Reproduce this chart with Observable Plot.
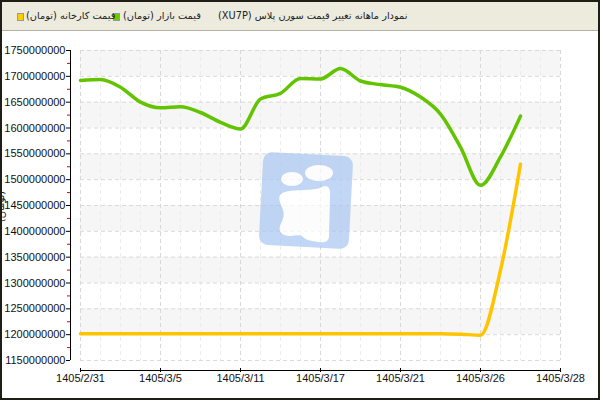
<!DOCTYPE html>
<html>
<head>
<meta charset="utf-8">
<script src="https://cdn.jsdelivr.net/npm/d3@7"></script>
<script src="https://cdn.jsdelivr.net/npm/@observablehq/plot@0.6"></script>
<style>
  body { margin: 0; background: #fff; }
  #box {
    position: relative; width: 600px; height: 400px; box-sizing: border-box;
    border: 2px solid #1e1e16; overflow: hidden; background: #fff;
  }
  #head {
    position: relative; height: 28px; background: #ecebde; border-bottom: 1px solid #b4b3a6;
    font-family: "DejaVu Sans", sans-serif; font-size: 9.8px; color: #222;
  }
  #head span { position: absolute; top: 8px; white-space: nowrap; direction: rtl; }
  .sw { position: absolute; top: 11px; width: 5px; height: 6px; border: 1px solid #999; }
  #ylab {
    position: absolute; left: -17px; top: 199px; transform: rotate(-90deg);
    font-family: "DejaVu Sans", sans-serif; font-size: 10px; color: #222; direction: rtl;
  }
  #mark { position: absolute; left: 254px; top: 148px; opacity: 0.7; }
</style>
</head>
<body>
<div id="box">
  <div id="head">
    <span style="left:216px">نمودار ماهانه تغییر قیمت سورن پلاس (XU7P)</span>
    <span style="left:121px">قیمت بازار (تومان)</span>
    <div class="sw" style="left:111px;background:#66cc00"></div>
    <span style="left:24px">قیمت کارخانه (تومان)</span>
    <div class="sw" style="left:15px;background:#ffcc00"></div>
  </div>
  <div id="chart"></div>
  <div id="ylab">(تومان)</div>
  <svg id="mark" width="100" height="104" viewBox="0 0 100 104">
    <rect x="5" y="4" width="90" height="93" rx="9" fill="#a9c7f2" transform="rotate(3 50 50)"/>
    <ellipse cx="36" cy="29" rx="11" ry="7" fill="#fff"/>
    <ellipse cx="63" cy="23" rx="14" ry="8" fill="#fff"/>
    <path d="M25 44 C32 38 58 42 66 37 C72 34 75 39 74 46 L73 86 C73 92 68 93 62 92 C55 91 50 90 47 87 C44 84 40 86 34 86 C27 86 22 82 24 76 C26 71 29 66 27 60 C25 54 21 48 25 44 Z" fill="#fff"/>
  </svg>
</div>
<script>
// قیمت بازار و قیمت کارخانه (تومان) per point
const market = [1692e6, 1694e6, 1679e6, 1650e6, 1639e6, 1641e6, 1630e6, 1611e6, 1598e6, 1656e6,
  1667e6, 1696e6, 1695e6, 1715e6, 1691e6, 1684e6, 1679e6, 1660e6, 1627e6, 1563e6, 1489e6, 1544e6, 1623e6]
const factory = [1202e6, 1202e6, 1202e6, 1202e6, 1202e6, 1202e6, 1202e6, 1202e6, 1202e6, 1202e6,
  1202e6, 1202e6, 1202e6, 1202e6, 1202e6, 1202e6, 1202e6, 1202e6, 1202e6, 1201e6, 1199e6, 1325e6, 1530e6]

const xTickIdx = [0, 4, 8, 12, 16, 20, 24]
const xTickLabels = ["1405/2/31", "1405/3/5", "1405/3/11", "1405/3/17", "1405/3/21", "1405/3/26", "1405/3/28"]
const xDomain = [0, 24]

const yDomain = [1150e6, 1750e6]
const yTicks = [1150e6, 1200e6, 1250e6, 1300e6, 1350e6, 1400e6, 1450e6, 1500e6, 1550e6, 1600e6, 1650e6, 1700e6, 1750e6]
const yMinor = [1175e6, 1225e6, 1275e6, 1325e6, 1375e6, 1425e6, 1475e6, 1525e6, 1575e6, 1625e6, 1675e6, 1725e6]
const bandStart = [1200e6, 1300e6, 1400e6, 1500e6, 1600e6, 1700e6]
const bandSize = 50e6

const rows = market.map((v, i) => ({i: i, market: v, factory: factory[i]}))
const bands = bandStart.map(b => ({lo: b, hi: b + bandSize}))
const allIdx = d3.range(xDomain[0], xDomain[1] + 1)

const dash = "4,3"

let plot = Plot.plot({
  width: 596,
  height: 367,
  marginLeft: 78,
  marginRight: 38,
  marginTop: 19,
  marginBottom: 38,
  style: {fontFamily: "'Liberation Sans', sans-serif", fontSize: "11px", color: "#111", background: "transparent"},
  x: {domain: xDomain, axis: null, label: null},
  y: {domain: yDomain, axis: null, label: null},
  marks: [
    Plot.rect(bands, {x1: xDomain[0], x2: xDomain[1], y1: "lo", y2: "hi", fill: "#f6f6f6"}),
    Plot.ruleX(allIdx, {stroke: "#ececec", strokeDasharray: dash}),
    Plot.ruleX(xTickIdx, {stroke: "#d8d8d8", strokeDasharray: dash}),
    Plot.ruleY(yTicks, {stroke: "#dadada", strokeDasharray: dash}),
    // offset axis lines
    Plot.ruleX([xDomain[0]], {y1: yDomain[0], y2: yDomain[1], dx: -10, stroke: "#000"}),
    Plot.ruleY([yDomain[0]], {x1: xDomain[0], x2: xDomain[1], dy: 10, stroke: "#000"}),
    Plot.axisY(yTicks, {tickSize: 4, tickPadding: 1, dx: -10, stroke: "#000", label: null, tickFormat: d3.format("d")}),
    Plot.axisY(yMinor, {tickSize: 3, tickPadding: 0, dx: -10, stroke: "#e00000", label: null, tickFormat: () => ""}),
    Plot.axisX(xTickIdx, {tickSize: 4, tickPadding: 2, dy: 8, stroke: "#000", label: null,
      tickFormat: i => xTickLabels[xTickIdx.indexOf(i)]}),
    Plot.line(rows, {x: "i", y: "factory", curve: "monotone-x", stroke: "#ffc400", strokeWidth: 3.5}),
    Plot.line(rows, {x: "i", y: "market", curve: "monotone-x", stroke: "#62c400", strokeWidth: 3.5}),
  ]
})

document.getElementById("chart").append(plot)
</script>
</body>
</html>
